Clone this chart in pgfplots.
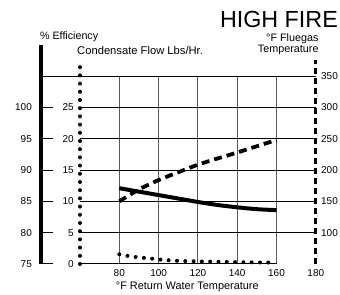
\documentclass[border=0pt]{standalone}
\usepackage{pgfplots}
\pgfplotsset{compat=1.18}
\usepackage{pgfplotstable}
\usepackage{fontspec}
\setmainfont{Liberation Sans}
% efficiency (%) vs return water temperature
\pgfplotstableread{
x eff
80 87.1
90 86.55
100 86.0
110 85.45
120 84.9
130 84.42
140 84.05
150 83.75
160 83.6
}\effdata
% flue gas temperature (F)
\pgfplotstableread{
x flue
80 150
90 169
100 184
110 196.5
120 208.5
130 218.5
140 228
150 238
160 248
}\fluedata
% condensate flow (lbs/hr)
\pgfplotstableread{
x cond
80 1.55
85 1.25
90 1.05
95 0.9
100 0.72
105 0.6
110 0.5
120 0.42
130 0.35
140 0.3
150 0.25
160 0.22
}\conddata
\begin{document}
\begin{tikzpicture}
\begin{axis}[
  scale only axis, width=340bp, height=295bp,
  xmin=19.3, xmax=192.3, ymin=-0.99, ymax=8.43,
  axis lines=none, clip=false,
]
\path (rel axis cs:0,0) rectangle (rel axis cs:1,1);
% vertical grid
\foreach \xx in {80,100,120,140,160}{
  \edef\tmp{\noexpand\draw[black!65, line width=1bp] (axis cs:\xx,0) -- (axis cs:\xx,6);}\tmp
}
% horizontal grid
\foreach \yy in {1,2,3,4,5}{
  \edef\tmp{\noexpand\draw[black, line width=1bp] (axis cs:60,\yy) -- (axis cs:180,\yy);}\tmp
  \edef\tmp{\noexpand\draw[black, line width=1bp] (axis cs:41.2,\yy) -- (axis cs:46.3,\yy);}\tmp
}
\draw[black, line width=1bp] (axis cs:40.2,6) -- (axis cs:180,6);
\draw[black, line width=1bp] (axis cs:60,0) -- (axis cs:160,0);
\draw[black, line width=1bp] (axis cs:40.2,0) -- (axis cs:46.3,0);
% left thick efficiency axis
\draw[black, line width=3.3bp] (axis cs:40.2,0) -- (axis cs:40.2,7.0);
% dotted condensate axis
\draw[black, line width=4bp, line cap=round, dash pattern=on 0bp off 8.2bp] (axis cs:60,0) -- (axis cs:60,6.35);
% dashed flue gas axis
\draw[black, line width=3.2bp, dash pattern=on 6bp off 4bp] (axis cs:180,0) -- (axis cs:180,6.5);

% series
\addplot[black, line width=4bp, smooth, no markers] table[x=x, y expr=(\thisrow{eff}-75)/5] {\effdata};
\addplot[black, line width=3.8bp, dash pattern=on 8bp off 5bp, smooth, no markers] table[x=x, y expr=(\thisrow{flue}-50)/50] {\fluedata};
\addplot[black, line width=4bp, line cap=round, dash pattern=on 0bp off 8.3bp, smooth, no markers] table[x=x, y expr=\thisrow{cond}/5] {\conddata};

% tick labels
\foreach \v/\u in {75/0,80/1,85/2,90/3,95/4,100/5}{
  \edef\tmp{\noexpand\node[anchor=east, inner sep=0pt, font=\noexpand\fontsize{10bp}{12bp}\noexpand\selectfont] at (axis cs:35.6,\u) {\v};}\tmp
}
\foreach \v/\u in {0/0,5/1,10/2,15/3,20/4,25/5}{
  \edef\tmp{\noexpand\node[anchor=east, inner sep=0pt, font=\noexpand\fontsize{10bp}{12bp}\noexpand\selectfont] at (axis cs:56.9,\u) {\v};}\tmp
}
\foreach \v/\u in {100/1,150/2,200/3,250/4,300/5,350/6}{
  \edef\tmp{\noexpand\node[anchor=west, inner sep=0pt, font=\noexpand\fontsize{10bp}{12bp}\noexpand\selectfont] at (axis cs:182.6,\u) {\v};}\tmp
}
\foreach \v in {80,100,120,140,160,180}{
  \edef\tmp{\noexpand\node[anchor=center, inner sep=0pt, font=\noexpand\fontsize{10bp}{12bp}\noexpand\selectfont] at (axis cs:\v,-0.29) {\v};}\tmp
}
% titles
\node[anchor=west, inner sep=0pt, font=\fontsize{10.7bp}{12bp}\selectfont] at (axis cs:39.6,7.245) {\% Efficiency};
\node[anchor=west, inner sep=0pt, font=\fontsize{11.2bp}{12bp}\selectfont] at (axis cs:58.5,6.83) {Condensate Flow Lbs/Hr.};
\node[anchor=east, inner sep=0pt, font=\fontsize{10.8bp}{12bp}\selectfont] at (axis cs:181.5,7.18) {°F Fluegas};
\node[anchor=east, inner sep=0pt, font=\fontsize{10.8bp}{12bp}\selectfont] at (axis cs:181.5,6.83) {Temperature};
\node[anchor=east, inner sep=0pt, font=\fontsize{23.3bp}{26bp}\selectfont] at (axis cs:191.3,7.82) {HIGH FIRE};
\node[anchor=center, inner sep=0pt, font=\fontsize{10.9bp}{12bp}\selectfont] at (axis cs:114.6,-0.73) {°F Return Water Temperature};
\end{axis}
\end{tikzpicture}
\end{document}
